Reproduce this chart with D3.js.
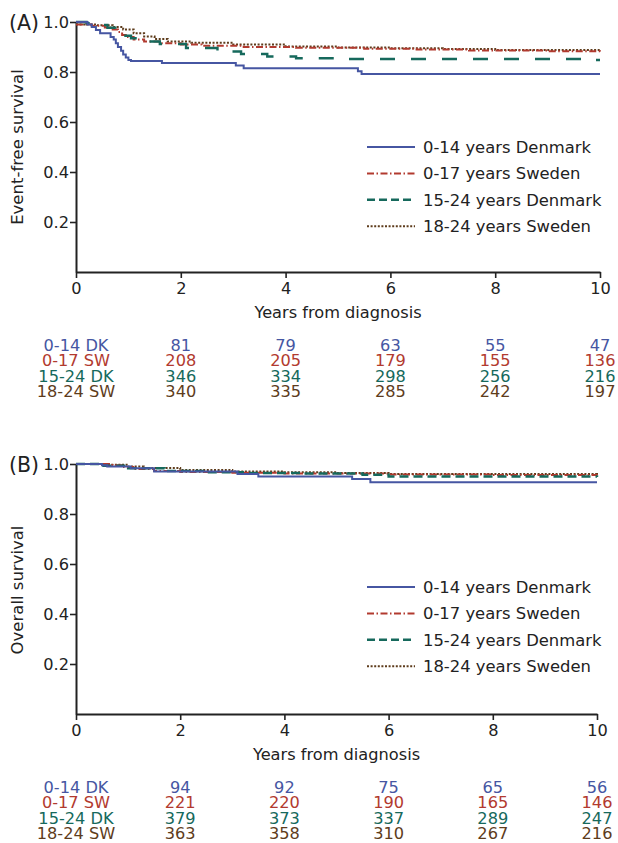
<!DOCTYPE html>
<html><head><meta charset="utf-8">
<script src="https://cdn.jsdelivr.net/npm/d3@7"></script>
<style>
body{margin:0;background:#fff;}
svg text{font-family:"DejaVu Sans",sans-serif;}
</style></head>
<body><svg id="chart" width="618" height="843"></svg>
<script>
// ---- data ----
const seriesNames = ["0-14 years Denmark","0-17 years Sweden","15-24 years Denmark","18-24 years Sweden"];
const riskLabels = ["0-14 DK","0-17 SW","15-24 DK","18-24 SW"];
const riskTimes = [2,4,6,8,10];
const xTicks = [0,2,4,6,8,10];
const yTicks = [0.2,0.4,0.6,0.8,1.0];

const efs_0_14_DK = [[0,1],[0.22,0.99],[0.3,0.98],[0.38,0.968],[0.46,0.955],[0.66,0.94],[0.72,0.93],[0.76,0.915],[0.8,0.9],[0.86,0.885],[0.9,0.87],[0.95,0.858],[1.0,0.848],[1.05,0.844],[1.64,0.836],[3.05,0.826],[3.2,0.815],[5.38,0.803],[5.45,0.792],[10,0.792]];
const efs_0_17_SW = [[0,0.99],[0.3,0.985],[0.55,0.978],[0.7,0.97],[0.8,0.96],[0.88,0.948],[0.95,0.94],[1.1,0.93],[1.3,0.922],[1.6,0.915],[2.0,0.91],[2.4,0.905],[3.2,0.9],[4.2,0.897],[5.5,0.893],[6.5,0.89],[7.5,0.886],[9,0.883],[10,0.882]];
const efs_15_24_DK = [[0,1],[0.2,0.995],[0.4,0.988],[0.6,0.977],[0.75,0.962],[0.9,0.945],[1.05,0.935],[1.25,0.922],[1.6,0.912],[2.1,0.896],[2.7,0.882],[3.15,0.872],[3.65,0.862],[4.2,0.855],[5.0,0.852],[9.8,0.848],[10,0.848]];
const efs_18_24_SW = [[0,0.99],[0.4,0.987],[0.7,0.98],[0.9,0.97],[1.1,0.955],[1.3,0.942],[1.5,0.932],[1.75,0.922],[2.2,0.917],[3.0,0.91],[4.0,0.902],[5.0,0.898],[6.0,0.895],[7.0,0.892],[8.0,0.888],[10,0.886]];

const os_0_14_DK = [[0,1],[0.5,0.995],[0.6,0.99],[1.05,0.983],[1.5,0.97],[3.1,0.96],[3.5,0.95],[5.3,0.94],[5.65,0.927],[10,0.927]];
const os_0_17_SW = [[0,1],[0.7,0.995],[0.9,0.988],[1.1,0.98],[1.5,0.972],[2.0,0.968],[3.0,0.965],[4.0,0.962],[6.0,0.958],[8.0,0.956],[10,0.955]];
const os_15_24_DK = [[0,1],[0.5,0.993],[1.0,0.983],[1.7,0.972],[2.5,0.967],[3.2,0.964],[4.3,0.962],[5.5,0.957],[6.0,0.95],[10,0.948]];
const os_18_24_SW = [[0,1],[0.5,0.997],[1.0,0.99],[1.3,0.984],[2.0,0.976],[3.0,0.97],[4.0,0.967],[5.0,0.964],[6.0,0.96],[10,0.957]];

const efsRisk = [[81,79,63,55,47],[208,205,179,155,136],[346,334,298,256,216],[340,335,285,242,197]];
const osRisk = [[94,92,75,65,56],[221,220,190,165,146],[379,373,337,289,247],[363,358,310,267,216]];

// ---- styles ----
const colors = ["#4656a2","#b23a2f","#16695c","#5e3c1c"];
const widths = [2,2,2.4,2];
const legendDash = [null,"7,2.5,1.5,2.5","8,4","2,1.6"];

const svg = d3.select("#chart");
const axisColor = "#222";
const FS = 16.2;

function drawPanel(cfg){
  const g = svg.append("g");
  const x = d3.scaleLinear().domain([0,10]).range([cfg.x0,cfg.x1]);
  const y = d3.scaleLinear().domain([0,1]).range([cfg.yb,cfg.yt]);

  // y axis
  const yAx = g.append("g").attr("transform",`translate(${cfg.x0},0)`)
    .call(d3.axisLeft(y).tickValues(yTicks).tickFormat(d3.format(".1f")).tickSize(6).tickSizeOuter(0));
  yAx.select(".domain").attr("stroke",axisColor).attr("stroke-width",2);
  yAx.selectAll(".tick line").attr("stroke",axisColor).attr("stroke-width",1.6);
  yAx.selectAll(".tick text").attr("font-size",FS).attr("fill","#222").attr("x",-7).attr("font-family","DejaVu Sans");
  // x axis
  const xAx = g.append("g").attr("transform",`translate(0,${cfg.yb})`)
    .call(d3.axisBottom(x).tickValues(xTicks).tickFormat(d3.format("d")).tickSize(6).tickSizeOuter(0));
  xAx.select(".domain").attr("stroke",axisColor).attr("stroke-width",2);
  xAx.selectAll(".tick line").attr("stroke",axisColor).attr("stroke-width",1.6);
  xAx.selectAll(".tick text").attr("font-size",FS).attr("fill","#222").attr("y",10).attr("font-family","DejaVu Sans");

  // labels
  g.append("text").attr("x",cfg.x0+(cfg.x1-cfg.x0)/2+0).attr("y",cfg.yb+46).attr("text-anchor","middle")
    .attr("font-size",FS).attr("fill","#222").text("Years from diagnosis");
  g.append("text").attr("transform",`translate(23,${cfg.ylabCy}) rotate(-90)`).attr("text-anchor","middle")
    .attr("font-size",16.5).attr("fill","#222").text(cfg.ylab);
  g.append("text").attr("x",9).attr("y",cfg.yt+8).attr("font-size",20.5).attr("fill","#222").text(cfg.tag);

  // curves
  const line = d3.line().x(d=>x(d[0])).y(d=>y(d[1])).curve(d3.curveStepAfter);
  const order = [3,1,2,0];
  order.forEach(i=>{
    g.append("path").datum(cfg.series[i]).attr("d",line).attr("fill","none")
      .attr("stroke",colors[i]).attr("stroke-width",widths[i])
      .attr("stroke-dasharray",cfg.dash[i]);
  });

  // legend
  seriesNames.forEach((nm,i)=>{
    const cy = cfg.legY + i*26.4;
    g.append("line").attr("x1",367).attr("x2",415).attr("y1",cy).attr("y2",cy)
      .attr("stroke",colors[i]).attr("stroke-width",widths[i]).attr("stroke-dasharray",legendDash[i]);
    g.append("text").attr("x",423).attr("y",cy+6).attr("font-size",16.4).attr("fill","#222").text(nm);
  });

  // risk table
  riskLabels.forEach((lab,i)=>{
    const by = cfg.riskY + i*15.4;
    g.append("text").attr("x",x(0)).attr("y",by).attr("text-anchor","middle")
      .attr("font-size",FS).attr("fill",colors[i]).text(lab);
    riskTimes.forEach((t,j)=>{
      g.append("text").attr("x",x(t)).attr("y",by).attr("text-anchor","middle")
        .attr("font-size",FS).attr("fill",colors[i]).text(cfg.risk[i][j]);
    });
  });
}

drawPanel({x0:76,x1:600,yt:22,yb:272,tag:"(A)",ylab:"Event-free survival",ylabCy:147,
  series:[efs_0_14_DK,efs_0_17_SW,efs_15_24_DK,efs_18_24_SW],
  dash:[null,"7,2.5,1.5,2.5","15,16","2,1.6"],
  legY:147,riskY:351,risk:efsRisk});
drawPanel({x0:76,x1:597,yt:464,yb:714,tag:"(B)",ylab:"Overall survival",ylabCy:590,
  series:[os_0_14_DK,os_0_17_SW,os_15_24_DK,os_18_24_SW],
  dash:[null,"7,2.5,1.5,2.5","9,5","2,1.6"],
  legY:587,riskY:793,risk:osRisk});
</script></body></html>
